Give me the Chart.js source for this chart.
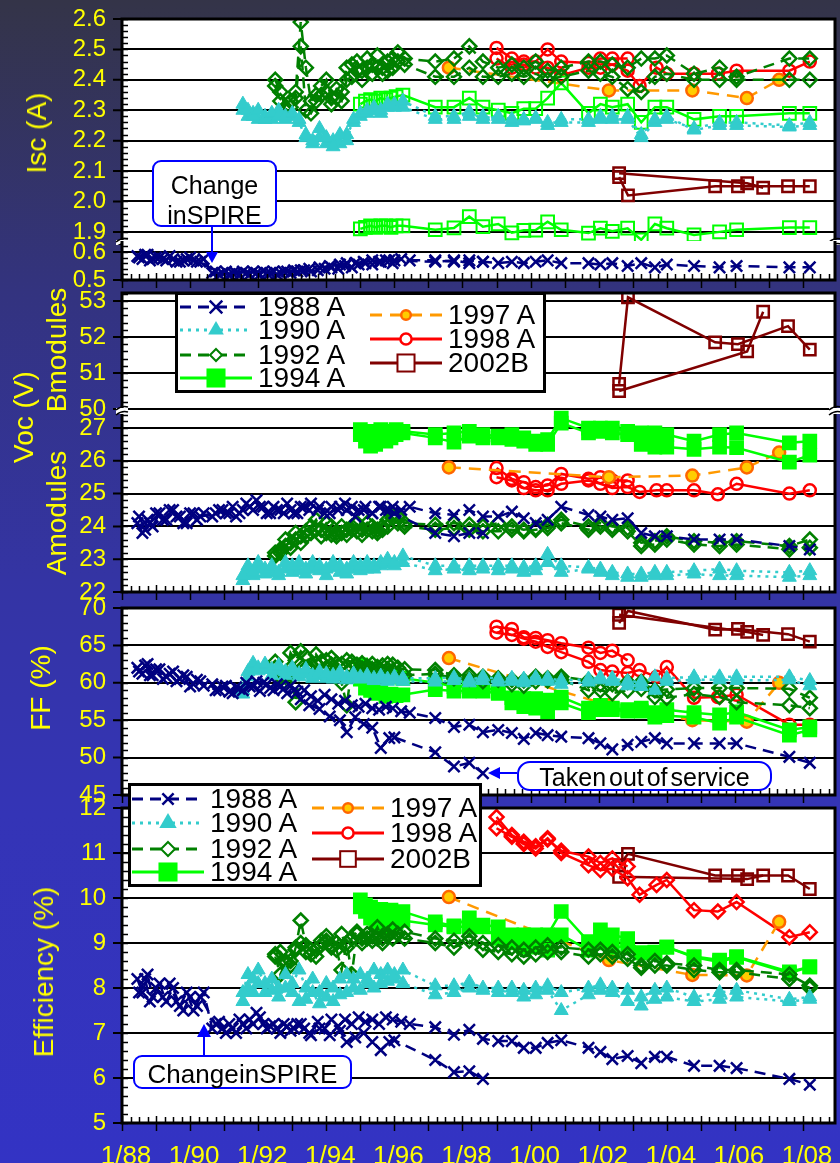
<!DOCTYPE html>
<html>
<head>
<meta charset="utf-8">
<script src="https://cdn.jsdelivr.net/npm/chart.js@4.4.0/dist/chart.umd.min.js"></script>
<style>
  html, body { margin: 0; padding: 0; }
  #page {
    position: relative; width: 840px; height: 1163px; overflow: hidden;
    background: linear-gradient(180deg, #343448 0%, #33337f 25%, #3434a4 50%, #3434b6 70%, #3333c4 100%);
    font-family: 'Liberation Sans', Arial, sans-serif;
  }
  canvas { position: absolute; left: 0; }
  .yt {
    position: absolute; transform: translate(-50%, -50%) rotate(-90deg);
    color: #ffff00; font-size: 28px; line-height: 1; white-space: nowrap;
  }
  .legend { position: absolute; background: #fff; border: 3px solid #000; box-sizing: border-box; z-index: 5; }
  .legend .item { position: absolute; height: 24px; }
  .legend svg { position: absolute; left: 0; top: 0; }
  .legend span { position: absolute; top: -2px; font-size: 28px; line-height: 28px; color: #000; white-space: nowrap; }
  .note {
    position: absolute; background: #fff; border: 2px solid #0000ff; box-sizing: border-box;
    color: #000; font-size: 25px; line-height: 1; text-align: center; z-index: 4; white-space: nowrap;
  }
  #arrows { position: absolute; left: 0; top: 0; z-index: 4; }
</style>
</head>
<body>
<div id="page">
  <canvas id="iscTop" width="840" height="242" style="top:3px"></canvas>
  <canvas id="iscBot" width="840" height="59" style="top:237px"></canvas>
  <canvas id="vocA" width="840" height="203" style="top:405px"></canvas>
  <canvas id="vocB" width="840" height="150" style="top:277px"></canvas>
  <canvas id="ff" width="840" height="219" style="top:592px"></canvas>
  <canvas id="eff" width="840" height="371" style="top:792px"></canvas>

  <div class="yt" style="left:37px;top:133px">Isc (A)</div>
  <div class="yt" style="left:24px;top:417px">Voc (V)</div>
  <div class="yt" style="left:57px;top:350px">Bmodules</div>
  <div class="yt" style="left:57px;top:513px">Amodules</div>
  <div class="yt" style="left:41px;top:688px">FF (%)</div>
  <div class="yt" style="left:44px;top:972px">Efficiency (%)</div>

  <div class="note" style="left:152px;top:160px;width:125px;height:67px;border-radius:9px;padding-top:8px;line-height:30px">Change<br>inSPIRE</div>
  <div class="note" style="left:517px;top:761px;width:255px;height:30px;border-radius:13px;padding-top:2px;word-spacing:-4px">Taken out of service</div>
  <div class="note" style="left:133px;top:1055px;width:219px;height:34px;border-radius:9px;padding-top:4px;font-size:26px;word-spacing:-7px">Change in SPIRE</div>

  <svg id="arrows" width="840" height="1163">
    <g stroke="#0000ff" stroke-width="2" fill="#0000ff">
      <line x1="212" y1="227" x2="212" y2="253"/>
      <polygon points="206,252 218,252 212,263" stroke="none"/>
      <line x1="204" y1="1055" x2="204" y2="1036"/>
      <polygon points="197,1037 211,1037 204,1024" stroke="none"/>
      <line x1="517" y1="773" x2="499" y2="773"/>
      <polygon points="500,767 500,779 488,773" stroke="none"/>
    </g>
  </svg>

  <div class="legend" id="legendTop" style="left:175px;top:292px;width:371px;height:101px"></div>
  <div class="legend" id="legendBottom" style="left:128px;top:783px;width:354px;height:104px"></div>
</div>

<script>
const FONT = "'Liberation Sans', Arial, sans-serif";
const YELLOW = '#ffff00';
const X_MIN = 1988.0;
const X_MAX = 2008.94;
const X_LABEL_YEARS = [1988, 1990, 1992, 1994, 1996, 1998, 2000, 2002, 2004, 2006, 2008];
const X_LABELS = ['1/88', '1/90', '1/92', '1/94', '1/96', '1/98', '1/00', '1/02', '1/04', '1/06', '1/08'];

const ISC_TOP_TICKS = [1.9, 2.0, 2.1, 2.2, 2.3, 2.4, 2.5, 2.6];
const ISC_BOT_TICKS = [0.5, 0.6];
const VOCB_TICKS = [50, 51, 52, 53];
const VOCA_TICKS = [22, 23, 24, 25, 26, 27];
const FF_TICKS = [45, 50, 55, 60, 65, 70];
const EFF_TICKS = [5, 6, 7, 8, 9, 10, 11, 12];

// measurement dates shared by the later campaign
const LATE = [1997.2, 1997.75, 1998.2, 1998.6, 1999.05, 1999.45, 1999.8, 2000.15, 2000.5, 2000.9, 2001.7,
  2002.05, 2002.4, 2002.85, 2003.25, 2003.65, 2004.0, 2004.8, 2005.55, 2006.05, 2007.6, 2008.2];

// ---- 1988 A ----
const E88A = [1988.45, 1988.6, 1988.75, 1988.9, 1989.1, 1989.3, 1989.5, 1989.7, 1989.9, 1990.1, 1990.3,
  1990.75, 1990.95, 1991.15, 1991.35, 1991.55, 1991.75, 1991.95, 1992.15, 1992.35, 1992.55, 1992.75, 1992.95,
  1993.15, 1993.35, 1993.55, 1993.75, 1993.95, 1994.15, 1994.35, 1994.55, 1994.75, 1994.95, 1995.15, 1995.35,
  1995.55, 1995.75, 1995.95, 1996.2, 1996.45];
const T88A = E88A.concat(LATE);
const T88B = [1988.5, 1988.68, 1988.82, 1989.0, 1989.2, 1989.4, 1989.6, 1989.8, 1990.0, 1990.2, 1990.4,
  1990.65, 1990.85, 1991.05, 1991.25, 1991.45, 1991.65, 1991.85, 1992.05, 1992.25, 1992.45, 1992.65, 1992.85,
  1993.05, 1993.25, 1993.5, 1993.8, 1994.1, 1994.4, 1994.6, 1994.85, 1995.1, 1995.35, 1995.6, 1995.85, 1996.0,
  1997.2, 1997.75, 1998.2, 1998.6];

const ISC88A = [0.585, 0.575, 0.59, 0.575, 0.58, 0.57, 0.575, 0.565, 0.575, 0.57, 0.565,
  0.53, 0.525, 0.52, 0.525, 0.53, 0.52, 0.525, 0.53, 0.525, 0.52, 0.53, 0.525, 0.53, 0.535, 0.53, 0.535, 0.54,
  0.545, 0.54, 0.55, 0.545, 0.555, 0.56, 0.555, 0.565, 0.57, 0.56, 0.575, 0.57,
  0.57, 0.565, 0.57, 0.565, 0.56, 0.565, 0.56, 0.565, 0.57, 0.56, 0.56, 0.555, 0.56, 0.55, 0.56, 0.545, 0.555,
  0.55, 0.545, 0.55, 0.545, 0.545];
const ISC88B = [0.58, 0.59, 0.57, 0.58, 0.575, 0.585, 0.565, 0.57, 0.58, 0.565, 0.575, 0.525, 0.52, 0.53, 0.525,
  0.52, 0.525, 0.53, 0.52, 0.525, 0.53, 0.525, 0.53, 0.535, 0.535, 0.54, 0.545, 0.55, 0.555, 0.56, 0.56, 0.565,
  0.57, 0.565, 0.57, 0.57, 0.565, 0.57, 0.56, 0.565];
const VOC88A = [24.1, 23.8, 24.2, 24.0, 24.4, 24.2, 24.5, 24.3, 24.1, 24.4, 24.3,
  24.4, 24.5, 24.4, 24.3, 24.5, 24.6, 24.8, 24.6, 24.4, 24.5, 24.4, 24.5, 24.4, 24.6, 24.7, 24.5, 24.4, 24.6,
  24.5, 24.7, 24.6, 24.5, 24.6, 24.4, 24.6, 24.5, 24.6, 24.5, 24.6,
  24.4, 24.35, 24.5, 24.3, 24.3, 24.45, 24.25, 24.1, 24.2, 24.6, 24.35, 24.3, 24.2, 24.25, 23.8, 23.7, 23.7,
  23.6, 23.6, 23.6, 23.4, 23.3];
const VOC88B = [24.3, 23.9, 24.1, 24.4, 24.2, 24.5, 24.3, 24.1, 24.4, 24.2, 24.4, 24.3, 24.5, 24.4, 24.6, 24.4,
  24.7, 24.5, 24.6, 24.4, 24.6, 24.5, 24.7, 24.4, 24.6, 24.5, 24.6, 24.4, 24.6, 24.5, 24.3, 24.5, 24.4, 24.6,
  24.5, 24.4, 23.8, 23.7, 23.8, 23.8];
const FF88A = [62.0, 61.2, 62.5, 61.0, 61.8, 60.8, 61.5, 60.5, 60.8, 59.8, 60.2,
  59.0, 59.5, 58.8, 59.4, 59.0, 59.5, 60.2, 60.0, 59.3, 59.8, 59.2, 59.6, 58.8, 59.0, 58.2, 57.6, 58.4, 57.8,
  57.2, 57.6, 57.0, 56.8, 57.2, 56.6, 56.4, 56.8, 56.6, 56.2, 56.0,
  55.3, 54.1, 54.4, 53.4, 53.7, 53.3, 52.5, 53.3, 53.0, 52.8, 52.6, 51.9, 51.1, 51.7, 52.1, 52.6, 51.9, 51.9,
  51.9, 51.9, 50.1, 49.3];
const FF88B = [61.5, 62.3, 61.0, 61.8, 60.5, 61.2, 60.2, 61.0, 59.5, 60.4, 59.6, 59.8, 59.0, 59.6, 58.6, 59.2,
  60.0, 59.5, 58.9, 59.8, 59.0, 59.5, 58.6, 59.0, 57.8, 57.0, 56.5, 55.5, 55.0, 53.4, 55.4, 54.5, 54.0, 51.3,
  52.6, 52.7, 50.7, 48.8, 49.3, 47.9];
const EFF88A = [8.2, 7.9, 8.3, 7.8, 8.1, 7.7, 8.0, 7.6, 7.9, 7.5, 7.8,
  7.2, 7.1, 7.2, 7.0, 7.2, 7.3, 7.45, 7.2, 7.15, 7.1, 7.2, 7.05, 7.2, 7.1, 6.95, 7.25, 7.1, 7.3, 7.15, 7.3,
  7.2, 7.35, 7.25, 7.3, 7.2, 7.35, 7.3, 7.25, 7.2,
  7.13, 6.96, 7.07, 6.87, 6.82, 6.82, 6.67, 6.67, 6.78, 6.84, 6.67, 6.58, 6.42, 6.49, 6.33, 6.47, 6.47, 6.27,
  6.27, 6.22, 5.98, 5.85];
const EFF88B = [7.9, 8.2, 7.7, 8.0, 7.8, 8.1, 7.7, 7.5, 7.8, 7.6, 7.9, 7.1, 7.25, 7.0, 7.1, 7.3, 7.1, 7.2, 7.35,
  7.1, 7.2, 7.0, 7.15, 7.1, 7.2, 7.0, 7.1, 6.95, 7.05, 6.8, 6.9, 7.0, 6.8, 6.62, 6.8, 6.84, 6.4, 6.13, 6.15, 5.98];

// ---- 1990 A ----
const E90 = [1991.55, 1991.7, 1991.85, 1992.0, 1992.2, 1992.4, 1992.6, 1992.8, 1993.0, 1993.2, 1993.4, 1993.6,
  1993.8, 1994.0, 1994.2, 1994.4, 1994.6, 1994.8, 1995.0, 1995.2, 1995.4, 1995.6, 1995.8, 1996.0, 1996.25];
const T90 = E90.concat(LATE);
const ISC90A = [2.32, 2.30, 2.28, 2.30, 2.27, 2.29, 2.28, 2.28, 2.29, 2.27, 2.22, 2.20, 2.24, 2.21, 2.18, 2.22,
  2.20, 2.27, 2.29, 2.30, 2.31, 2.30, 2.32, 2.31, 2.33,
  2.28, 2.28, 2.295, 2.27, 2.28, 2.27, 2.265, 2.275, 2.26, 2.26, 2.26, 2.28, 2.28, 2.28, 2.22, 2.27, 2.28,
  2.235, 2.25, 2.25, 2.245, 2.25];
const ISC90B = [2.30, 2.28, 2.29, 2.27, 2.28, 2.27, 2.30, 2.27, 2.28, 2.26, 2.21, 2.19, 2.21, 2.19, 2.20, 2.19,
  2.22, 2.26, 2.28, 2.29, 2.30, 2.29, 2.31, 2.32, 2.31,
  2.27, 2.27, 2.28, 2.28, 2.27, 2.26, 2.27, 2.27, 2.25, 2.27, 2.27, 2.27, 2.27, 2.27, 2.21, 2.26, 2.27, 2.24,
  2.26, 2.26, 2.25, 2.26];
const VOC90A = [22.5, 22.8, 22.6, 22.9, 22.7, 22.8, 22.6, 22.9, 22.8, 22.9, 22.7, 22.9, 22.8, 22.7, 22.9, 22.8,
  22.7, 22.9, 22.8, 22.9, 22.8, 22.9, 23.0, 22.9, 23.1,
  22.8, 22.8, 22.8, 22.8, 22.8, 22.8, 22.75, 22.8, 23.15, 22.8, 22.75, 22.7, 22.6, 22.55, 22.55, 22.6, 22.6,
  22.65, 22.7, 22.65, 22.6, 22.65];
const VOC90B = [22.35, 22.6, 22.5, 22.7, 22.55, 22.6, 22.5, 22.7, 22.6, 22.65, 22.55, 22.7, 22.65, 22.5, 22.75,
  22.6, 22.55, 22.7, 22.65, 22.7, 22.7, 22.8, 22.85, 22.8, 22.9,
  22.65, 22.7, 22.65, 22.7, 22.65, 22.7, 22.6, 22.65, 22.9, 22.6, 22.7, 22.6, 22.5, 22.45, 22.45, 22.5, 22.5,
  22.55, 22.5, 22.5, 22.45, 22.5];
const FF90A = [59.0, 61.5, 62.6, 62.0, 62.5, 61.8, 62.3, 61.5, 62.0, 61.2, 61.8, 61.0, 61.5, 61.2, 61.0, 61.4,
  60.8, 61.2, 60.8, 61.0, 60.6, 60.9, 60.5, 60.8, 60.6,
  60.6, 60.7, 60.4, 60.8, 60.5, 60.6, 60.5, 60.7, 60.6, 60.3, 60.5, 60.7, 60.6, 60.2, 60.1, 60.8, 60.6, 60.8,
  60.8, 60.8, 60.8, 60.3];
const FF90B = [58.5, 60.8, 61.8, 61.6, 61.8, 61.0, 61.6, 61.0, 61.5, 60.8, 61.2, 60.6, 61.0, 60.6, 60.5, 60.9,
  60.4, 60.7, 60.5, 60.6, 60.3, 60.5, 60.2, 60.4, 60.2,
  60.1, 60.3, 60.0, 60.3, 60.1, 60.2, 60.0, 60.3, 60.2, 59.8, 60.1, 60.4, 60.2, 59.6, 59.5, 59.0, 60.2, 60.4,
  60.4, 60.3, 60.4, 59.6];
const EFF90A = [7.9, 8.3, 8.2, 8.4, 8.1, 8.2, 8.0, 8.3, 8.1, 8.4, 8.0, 8.2, 7.9, 8.1, 8.0, 8.2, 8.3, 8.2, 8.3,
  8.2, 8.4, 8.3, 8.4, 8.3, 8.4,
  8.05, 8.05, 8.13, 8.0, 8.0, 8.0, 7.95, 8.0, 8.05, 7.9, 8.0, 8.07, 8.0, 7.95, 7.8, 7.95, 8.0, 7.8, 7.9, 7.95,
  7.75, 7.8];
const EFF90B = [7.7, 8.0, 7.9, 8.1, 7.9, 7.95, 7.8, 8.0, 7.9, 7.7, 7.75, 7.9, 7.65, 7.8, 7.7, 7.85, 7.9, 8.0,
  7.95, 8.1, 8.0, 8.1, 8.15, 8.2, 8.1,
  7.85, 7.9, 8.0, 7.95, 7.9, 7.9, 7.8, 7.85, 7.95, 7.5, 7.85, 7.95, 7.9, 7.7, 7.6, 7.75, 7.8, 7.7, 7.75, 7.8,
  7.7, 7.75];

// ---- 1992 A ----
const E92 = [1992.5, 1992.65, 1992.8, 1992.95, 1993.1, 1993.25, 1993.4, 1993.55, 1993.7, 1993.85, 1994.0,
  1994.15, 1994.3, 1994.45, 1994.6, 1994.75, 1994.9, 1995.05, 1995.2, 1995.35, 1995.5, 1995.65, 1995.8,
  1995.95, 1996.1, 1996.3];
const T92 = E92.concat(LATE);
const ISC92A = [2.40, 2.36, 2.31, 2.33, 2.36, 2.59, 2.44, 2.33, 2.35, 2.38, 2.40, 2.34, 2.37, 2.36, 2.44, 2.45,
  2.46, 2.43, 2.47, 2.45, 2.48, 2.44, 2.46, 2.47, 2.49, 2.47,
  2.46, 2.47, 2.51, 2.46, 2.44, 2.45, 2.44, 2.46, 2.43, 2.44, 2.46, 2.46, 2.45, 2.44, 2.47, 2.47, 2.48, 2.42,
  2.44, 2.41, 2.47, 2.47];
const ISC92B = [2.38, 2.33, 2.30, 2.31, 2.34, 2.51, 2.30, 2.29, 2.33, 2.35, 2.36, 2.32, 2.34, 2.33, 2.40, 2.41,
  2.43, 2.40, 2.44, 2.42, 2.44, 2.42, 2.43, 2.44, 2.46, 2.45,
  2.41, 2.41, 2.44, 2.41, 2.41, 2.42, 2.41, 2.42, 2.40, 2.41, 2.43, 2.42, 2.41, 2.37, 2.36, 2.41, 2.42, 2.40,
  2.40, 2.40, 2.40, 2.40];
const VOC92A = [23.2, 23.3, 23.6, 23.5, 23.8, 23.7, 23.85, 24.0, 24.2, 23.9, 24.1, 24.0, 23.8, 24.0, 23.9, 24.0,
  24.1, 23.9, 24.1, 24.0, 23.9, 24.0, 24.2, 24.35, 24.3, 24.1,
  24.05, 24.1, 24.05, 24.0, 24.1, 24.0, 23.9, 23.95, 24.05, 24.2, 24.0, 24.1, 24.0, 23.95, 23.5, 23.55, 23.7,
  23.55, 23.5, 23.55, 23.4, 23.6];
const VOC92B = [23.1, 23.2, 23.4, 23.35, 23.6, 23.5, 23.7, 23.8, 23.9, 23.7, 23.8, 23.75, 23.7, 23.8, 23.75, 23.9,
  23.85, 23.75, 23.9, 23.85, 23.8, 23.9, 24.0, 24.25, 24.1, 24.0,
  23.9, 23.95, 23.9, 23.85, 23.85, 23.9, 23.85, 23.9, 23.95, 24.1, 23.9, 24.0, 23.9, 23.85, 23.4, 23.45, 23.6,
  23.45, 23.4, 23.45, 23.3, 23.35];
const FF92A = [62.8, 61.5, 60.8, 64.0, 63.0, 64.2, 63.5, 62.4, 63.8, 62.8, 63.0, 63.3, 62.6, 62.5, 63.0, 62.8,
  62.4, 62.6, 62.2, 62.5, 62.1, 62.3, 62.5, 62.4, 62.0, 61.8,
  61.7, 61.0, 61.0, 60.8, 60.6, 60.4, 60.3, 60.8, 60.6, 60.8, 60.3, 59.8, 59.8, 60.1, 60.1, 59.0, 59.1, 59.3,
  59.3, 59.3, 59.2, 58.0];
const FF92B = [62.0, 60.8, 60.0, 62.0, 57.4, 62.5, 62.0, 61.8, 62.6, 61.5, 62.0, 62.4, 61.8, 60.0, 57.0, 62.0,
  61.6, 61.9, 61.5, 61.8, 61.3, 61.5, 61.8, 61.6, 61.2, 61.0,
  61.2, 60.6, 60.5, 60.2, 60.4, 59.8, 59.6, 60.2, 60.3, 60.4, 59.0, 59.0, 58.6, 59.0, 59.2, 58.1, 58.0, 58.5,
  58.1, 57.4, 57.0, 56.6];
const EFF92A = [8.75, 8.8, 8.6, 8.5, 8.9, 9.5, 8.95, 8.85, 8.7, 9.05, 9.15, 8.95, 9.0, 9.2, 8.9, 9.1, 9.25, 9.1,
  9.2, 9.15, 9.35, 9.1, 9.2, 9.3, 9.2, 9.25,
  9.1, 9.05, 9.15, 9.0, 8.95, 8.9, 8.85, 8.9, 8.95, 8.9, 8.85, 8.85, 8.8, 8.75, 8.5, 8.6, 8.55, 8.5, 8.4, 8.4,
  8.3, 8.05];
const EFF92B = [8.7, 8.3, 8.55, 8.6, 8.85, 9.0, 8.8, 8.75, 8.85, 8.95, 9.05, 8.9, 8.85, 8.4, 9.0, 8.3, 9.2, 9.0,
  9.1, 9.05, 9.1, 9.0, 9.15, 9.1, 9.2, 9.1,
  9.0, 8.9, 9.05, 8.85, 8.8, 8.75, 8.7, 8.75, 8.8, 8.8, 8.7, 8.75, 8.7, 8.65, 8.45, 8.5, 8.5, 8.4, 8.35, 8.35,
  8.2, 8.0];

// ---- 1994 A ----
const E94 = [1995.0, 1995.15, 1995.3, 1995.45, 1995.6, 1995.75, 1995.9, 1996.05, 1996.25];
const T94 = E94.concat(LATE);
const ISC94A = [2.32, 2.33, 2.335, 2.33, 2.34, 2.335, 2.34, 2.345, 2.35,
  2.31, 2.31, 2.34, 2.31, 2.30, 2.29, 2.305, 2.305, 2.34, 2.39, 2.29, 2.32, 2.31, 2.32, 2.26, 2.31, 2.31, 2.27,
  2.28, 2.28, 2.29, 2.29];
const ISC94B = [1.91, 1.915, 1.92, 1.915, 1.92, 1.92, 1.915, 1.92, 1.92,
  1.907, 1.913, 1.95, 1.917, 1.926, 1.897, 1.905, 1.906, 1.933, 1.907, 1.896, 1.912, 1.902, 1.912, 1.874, 1.926,
  1.912, 1.89, 1.9, 1.907, 1.914, 1.914];
const VOC94A = [26.95, 26.85, 26.9, 26.8, 26.95, 26.85, 26.9, 26.95, 26.9,
  26.8, 26.85, 26.9, 26.8, 26.75, 26.8, 26.7, 26.6, 26.65, 27.3, 27.0, 27.0, 27.0, 26.9, 26.85, 26.85, 26.8,
  26.6, 26.8, 26.85, 26.55, 26.6];
const VOC94B = [26.8, 26.6, 26.45, 26.5, 26.7, 26.6, 26.7, 26.8, 26.85,
  26.7, 26.57, 26.75, 26.7, 26.7, 26.65, 26.6, 26.5, 26.5, 27.15, 26.85, 26.9, 26.85, 26.8, 26.5, 26.42, 26.42,
  26.35, 26.42, 26.4, 25.96, 26.17];
const FF94A = [62.4, 62.0, 61.5, 61.8, 61.3, 61.0, 60.8, 61.0, 60.6,
  60.0, 59.5, 59.5, 59.5, 58.8, 58.0, 57.9, 57.9, 57.7, 58.1, 56.6, 57.0, 56.6, 56.4, 56.6, 56.0, 56.4, 56.0,
  55.7, 56.1, 53.7, 54.1];
const FF94B = [60.5, 59.3, 59.0, 58.6, 58.8, 58.2, 58.5, 58.3, 58.4,
  59.1, 58.9, 58.9, 58.9, 58.6, 57.3, 56.8, 56.6, 56.1, 57.3, 56.0, 56.4, 56.4, 56.2, 56.2, 55.4, 55.6, 55.4,
  54.6, 55.4, 53.0, 53.7];
const EFF94A = [9.96, 9.85, 9.8, 9.7, 9.75, 9.65, 9.73, 9.6, 9.7,
  9.47, 9.38, 9.56, 9.4, 9.36, 9.18, 9.18, 9.18, 9.18, 9.7, 9.03, 9.29, 9.18, 9.1, 8.78, 8.8, 8.91, 8.7, 8.62,
  8.7, 8.36, 8.47];
const EFF94B = [9.8, 9.7, 9.55, 9.45, 9.4, 9.5, 9.35, 9.45, 9.5,
  9.4, 9.36, 9.36, 9.36, 9.1, 9.0, 8.91, 8.91, 8.84, 9.18, 8.84, 9.0, 8.9, 8.93, 8.78, 8.78, 8.91, 8.68, 8.58,
  8.68, 8.33, 8.47];

// ---- 1997 A ----
const T97 = [1997.6, 2002.3, 2004.75, 2006.35, 2007.3];
const ISC97 = [2.44, 2.365, 2.365, 2.34, 2.40];
const VOC97 = [25.8, 25.5, 25.55, 25.8, 26.25];
const FF97 = [63.3, 57.0, 55.0, 54.8, 60.0];
const EFF97 = [10.02, 8.62, 8.29, 8.28, 9.47];

// ---- 1998 A ----
const T98A = [1999.0, 1999.45, 1999.8, 2000.15, 2000.5, 2000.9, 2001.7, 2002.05, 2002.4, 2002.85, 2003.2,
  2003.7, 2004.0, 2004.8, 2005.5, 2006.05, 2007.6, 2008.2];
const T98B = [1999.0, 1999.45, 1999.8, 2000.15, 2000.5, 2000.9, 2001.7, 2002.05, 2002.4, 2002.85];
const ISC98A = [2.47, 2.44, 2.45, 2.44, 2.44, 2.415, 2.44, 2.44, 2.45, 2.43, 2.38, 2.44, 2.42, 2.42, 2.42, 2.43,
  2.43, 2.46];
const ISC98B = [2.505, 2.47, 2.46, 2.46, 2.50, 2.46, 2.455, 2.47, 2.47, 2.47];
const VOC98A = [25.5, 25.4, 25.17, 25.1, 25.1, 25.3, 25.4, 25.3, 25.17, 25.2, 25.05, 25.1, 25.1, 25.1, 24.98,
  25.3, 25.0, 25.1];
const VOC98B = [25.78, 25.45, 25.35, 25.2, 25.25, 25.6, 25.45, 25.5, 25.4, 25.4];
const FF98A = [66.7, 66.4, 65.9, 65.5, 64.8, 64.1, 62.8, 61.7, 61.5, 61.3, 61.7, 60.8, 62.1, 58.0, 58.1, 58.4,
  54.4, 54.4];
const FF98B = [67.5, 67.2, 66.1, 66.0, 65.7, 65.3, 64.7, 64.0, 64.3, 63.0];
const EFF98A = [11.55, 11.36, 11.2, 11.1, 11.33, 11.0, 10.73, 10.62, 10.65, 10.44, 10.07, 10.29, 10.4, 9.73,
  9.7, 9.91, 9.13, 9.24];
const EFF98B = [11.8, 11.4, 11.25, 11.15, 11.3, 11.05, 10.92, 10.78, 10.88, 10.7];

// ---- 2002B ----
const T02A = [2002.6, 2002.86, 2005.42, 2006.09, 2007.56, 2008.2];
const T02B = [2002.6, 2006.36, 2006.83];
const ISC02A = [2.08, 2.02, 2.05, 2.05, 2.05, 2.05];
const ISC02B = [2.093, 2.06, 2.045];
const VOC02A = [50.7, 53.1, 51.85, 51.8, 52.3, 51.65];
const VOC02B = [50.5, 51.6, 52.7];
const FF02A = [68.0, 69.6, 67.1, 67.2, 66.5, 65.5];
const FF02B = [69.1, 66.8, 66.4];
const EFF02A = [10.73, 10.98, 10.5, 10.5, 10.5, 10.2];
const EFF02B = [10.47, 10.42, 10.5];

const OPEN = 'rgba(255,255,255,0)';
const STYLES = {
  '1988 A': { color: '#000080', width: 2.5, dash: [11, 7], point: 'crossRot', radius: 8, fill: '#000080', pw: 2.5 },
  '1990 A': { color: '#33cccc', width: 2.5, dash: [3, 5], point: 'triangle', radius: 8, fill: '#33cccc', pw: 1 },
  '1992 A': { color: '#008000', width: 2.5, dash: [11, 7], point: 'rectRot', radius: 7, fill: OPEN, pw: 2.5 },
  '1994 A': { color: '#00ff00', width: 2.5, dash: [], point: 'rect', radius: 9, fill: '#00ff00', pw: 2 },
  '1997 A': { color: '#ff9900', width: 2.5, dash: [12, 8], point: 'circle', radius: 6, fill: '#ffcc00', edge: '#ff6600', pw: 2.5 },
  '1998 A': { color: '#ff0000', width: 2.5, dash: [], point: 'circle', radius: 6, fill: OPEN, pw: 2.5 },
  '2002B': { color: '#800000', width: 2.5, dash: [], point: 'rect', radius: 8, fill: OPEN, pw: 2.5 },
};
const LEGEND_ORDER = ['1988 A', '1990 A', '1992 A', '1994 A', '1997 A', '1998 A', '2002B'];

function series(name, dates, values, over) {
  const st = Object.assign({}, STYLES[name], over || {});
  return {
    label: name,
    data: dates.map((x, i) => ({ x: x, y: values[i] })),
    borderColor: st.color,
    backgroundColor: st.fill,
    borderWidth: st.width,
    borderDash: st.dash,
    pointStyle: st.point,
    pointRadius: st.radius,
    pointBorderColor: st.edge || st.color,
    pointBackgroundColor: st.fill,
    pointBorderWidth: st.pw,
    tension: 0,
    fill: false,
  };
}

function drawBreak(ctx, x, y) {
  ctx.save();
  ctx.fillStyle = '#ffffff';
  ctx.fillRect(x - 6, y - 1, 12, 6);
  ctx.strokeStyle = '#000';
  ctx.lineWidth = 1.5;
  ctx.beginPath();
  ctx.moveTo(x - 6, y + 1); ctx.quadraticCurveTo(x, y - 4, x + 6, y - 2);
  ctx.moveTo(x - 6, y + 6); ctx.quadraticCurveTo(x, y + 1, x + 6, y + 3);
  ctx.stroke();
  ctx.restore();
}

const panelFrame = {
  id: 'panelFrame',
  beforeDraw(chart) {
    const { ctx, chartArea: a } = chart;
    ctx.save();
    ctx.fillStyle = '#ffffff';
    ctx.fillRect(a.left, a.top, a.right - a.left, a.bottom - a.top);
    ctx.restore();
  },
  afterDraw(chart, args, opts) {
    const { ctx, chartArea: a, scales } = chart;
    const x = scales.x;
    const y = scales.y;
    ctx.save();
    ctx.strokeStyle = '#000';
    // minor ticks on the left axis, inside
    ctx.lineWidth = 1.5;
    ctx.beginPath();
    const step = opts.yMinor;
    for (let k = Math.ceil(y.min / step - 1e-6); k * step <= y.max + 1e-9; k++) {
      const py = Math.round(y.getPixelForValue(k * step)) + 0.5;
      ctx.moveTo(a.left, py);
      ctx.lineTo(a.left + 6, py);
    }
    ctx.stroke();
    // major ticks on the left axis, outside
    ctx.lineWidth = 2;
    ctx.beginPath();
    y.ticks.forEach((t) => {
      const py = y.getPixelForValue(t.value);
      ctx.moveTo(a.left - 9, py);
      ctx.lineTo(a.left, py);
    });
    ctx.stroke();
    if (opts.xTicks) {
      ctx.lineWidth = 1.5;
      ctx.beginPath();
      for (let q = Math.ceil(x.min * 4); q <= Math.floor(x.max * 4); q++) {
        const px = Math.round(x.getPixelForValue(q / 4)) + 0.5;
        if (q % 4 === 0) {
          ctx.moveTo(px, a.bottom - 7);
          ctx.lineTo(px, a.bottom + 8);
        } else {
          ctx.moveTo(px, a.bottom - 6);
          ctx.lineTo(px, a.bottom);
        }
      }
      ctx.stroke();
    }
    // frame
    ctx.lineWidth = 3;
    ctx.beginPath();
    ctx.moveTo(a.left, a.top - (opts.top ? 1.5 : 0));
    ctx.lineTo(a.left, a.bottom + (opts.bottom ? 1.5 : 0));
    ctx.moveTo(a.right, a.top - (opts.top ? 1.5 : 0));
    ctx.lineTo(a.right, a.bottom + (opts.bottom ? 1.5 : 0));
    if (opts.top) { ctx.moveTo(a.left, a.top); ctx.lineTo(a.right, a.top); }
    if (opts.bottom) { ctx.moveTo(a.left, a.bottom); ctx.lineTo(a.right, a.bottom); }
    ctx.stroke();
    if (opts.breakAt === 'bottom') { drawBreak(ctx, a.left, a.bottom); drawBreak(ctx, a.right, a.bottom); }
    ctx.restore();
  },
};

function hiddenX() {
  return { type: 'linear', display: false, min: X_MIN, max: X_MAX };
}

function panel(id, cfg) {
  const canvas = document.getElementById(id);
  return new Chart(canvas.getContext('2d'), {
    type: 'line',
    data: { datasets: cfg.datasets },
    plugins: [panelFrame],
    options: {
      responsive: false,
      animation: false,
      events: [],
      layout: { autoPadding: false, padding: { top: cfg.padTop, bottom: cfg.padBottom, left: 0, right: 5 } },
      plugins: {
        legend: { display: false },
        tooltip: { enabled: false },
        panelFrame: cfg.frame,
      },
      scales: {
        x: cfg.xAxis || hiddenX(),
        y: {
          type: 'linear',
          min: cfg.yMin,
          max: cfg.yMax,
          afterFit(s) { s.width = 122; s.paddingTop = 0; s.paddingBottom = 0; },
          afterBuildTicks(s) { s.ticks = cfg.yTicks.map((v) => ({ value: v })); },
          border: { display: false },
          grid: { color: '#000', lineWidth: 2, drawTicks: false },
          ticks: {
            autoSkip: false,
            color: YELLOW,
            font: { size: 24, family: FONT },
            padding: 16,
            callback: cfg.yFormat || ((v) => String(v)),
          },
        },
      },
    },
  });
}

const oneDecimal = (v) => Number(v).toFixed(1);

panel('iscTop', {
  padTop: 16, padBottom: 4, yMin: 1.87, yMax: 2.6, yTicks: ISC_TOP_TICKS, yFormat: oneDecimal,
  frame: { yMinor: 0.02, top: true, bottom: false, breakAt: 'bottom' },
  datasets: [
    series('1990 A', T90, ISC90A), series('1990 A', T90, ISC90B),
    series('1992 A', T92, ISC92A), series('1992 A', T92, ISC92B),
    series('1994 A', T94, ISC94A, { fill: OPEN }), series('1994 A', T94, ISC94B, { fill: OPEN }),
    series('1997 A', T97, ISC97),
    series('1998 A', T98A, ISC98A), series('1998 A', T98B, ISC98B),
    series('2002B', T02A, ISC02A), series('2002B', T02B, ISC02B),
  ],
});

panel('iscBot', {
  padTop: 4, padBottom: 16, yMin: 0.5, yMax: 0.639, yTicks: ISC_BOT_TICKS, yFormat: oneDecimal,
  frame: { yMinor: 0.02, top: false, bottom: true, xTicks: true },
  datasets: [
    series('1988 A', T88A, ISC88A), series('1988 A', T88B, ISC88B),
  ],
});

panel('vocB', {
  padTop: 16, padBottom: 18, yMin: 50, yMax: 53.22, yTicks: VOCB_TICKS,
  frame: { yMinor: 0.2, top: true, bottom: false, breakAt: 'bottom' },
  datasets: [
    series('2002B', T02A, VOC02A), series('2002B', T02B, VOC02B),
  ],
});

panel('vocA', {
  padTop: 4, padBottom: 16, yMin: 22, yMax: 27.58, yTicks: VOCA_TICKS,
  frame: { yMinor: 0.2, top: false, bottom: true, xTicks: true },
  datasets: [
    series('1988 A', T88A, VOC88A), series('1988 A', T88B, VOC88B),
    series('1990 A', T90, VOC90A), series('1990 A', T90, VOC90B),
    series('1992 A', T92, VOC92A), series('1992 A', T92, VOC92B),
    series('1994 A', T94, VOC94A), series('1994 A', T94, VOC94B),
    series('1997 A', T97, VOC97),
    series('1998 A', T98A, VOC98A), series('1998 A', T98B, VOC98B),
  ],
});

panel('ff', {
  padTop: 16, padBottom: 16, yMin: 45, yMax: 70, yTicks: FF_TICKS,
  frame: { yMinor: 1, top: true, bottom: true, xTicks: true },
  datasets: [
    series('1988 A', T88A, FF88A), series('1988 A', T88B, FF88B),
    series('1990 A', T90, FF90A), series('1990 A', T90, FF90B),
    series('1992 A', T92, FF92A), series('1992 A', T92, FF92B),
    series('1994 A', T94, FF94A), series('1994 A', T94, FF94B),
    series('1997 A', T97, FF97),
    series('1998 A', T98A, FF98A), series('1998 A', T98B, FF98B),
    series('2002B', T02A, FF02A), series('2002B', T02B, FF02B),
  ],
});

panel('eff', {
  padTop: 16, padBottom: 0, yMin: 5, yMax: 12, yTicks: EFF_TICKS,
  frame: { yMinor: 0.2, top: true, bottom: true, xTicks: true },
  xAxis: {
    type: 'linear',
    position: 'bottom',
    min: X_MIN,
    max: X_MAX,
    afterFit(s) { s.height = 40; s.paddingLeft = 0; s.paddingRight = 0; },
    afterBuildTicks(s) { s.ticks = X_LABEL_YEARS.map((v) => ({ value: v })); },
    border: { display: false },
    grid: { display: false, drawTicks: false },
    ticks: {
      autoSkip: false,
      maxRotation: 0,
      color: YELLOW,
      font: { size: 26, family: FONT },
      padding: 18,
      labelOffset: 4,
      callback: (v, i) => X_LABELS[i],
    },
  },
  datasets: [
    series('1988 A', T88A, EFF88A), series('1988 A', T88B, EFF88B),
    series('1990 A', T90, EFF90A), series('1990 A', T90, EFF90B),
    series('1992 A', T92, EFF92A), series('1992 A', T92, EFF92B),
    series('1994 A', T94, EFF94A), series('1994 A', T94, EFF94B),
    series('1997 A', T97, EFF97),
    series('1998 A', T98A, EFF98A, { point: 'rectRot', radius: 7 }),
    series('1998 A', T98B, EFF98B, { point: 'rectRot', radius: 7 }),
    series('2002B', T02A, EFF02A), series('2002B', T02B, EFF02B),
  ],
});

// legends (HTML, styled from the same STYLES table)
function markerSvg(st, cx, cy, r) {
  const fill = st.fill === OPEN ? '#ffffff' : st.fill;
  const edge = st.edge || st.color;
  if (st.point === 'crossRot') {
    const d = r * 0.7;
    return `<path d="M${cx - d} ${cy - d}L${cx + d} ${cy + d}M${cx - d} ${cy + d}L${cx + d} ${cy - d}" stroke="${edge}" stroke-width="2.5"/>`;
  }
  if (st.point === 'triangle') {
    return `<polygon points="${cx},${cy - r} ${cx + r * 0.87},${cy + r * 0.5} ${cx - r * 0.87},${cy + r * 0.5}" fill="${fill}"/>`;
  }
  if (st.point === 'rectRot') {
    return `<polygon points="${cx},${cy - r} ${cx + r},${cy} ${cx},${cy + r} ${cx - r},${cy}" fill="${fill}" stroke="${edge}" stroke-width="2"/>`;
  }
  if (st.point === 'rect') {
    const h = r * 0.71;
    return `<rect x="${cx - h}" y="${cy - h}" width="${2 * h}" height="${2 * h}" fill="${fill}" stroke="${edge}" stroke-width="2"/>`;
  }
  return `<circle cx="${cx}" cy="${cy}" r="${r * 0.8}" fill="${fill}" stroke="${edge}" stroke-width="2.5"/>`;
}

function buildLegend(id, places, swatchW, textGap, sizes) {
  const box = document.getElementById(id);
  LEGEND_ORDER.forEach((name, i) => {
    const st = STYLES[name];
    const p = places[i];
    const item = document.createElement('div');
    item.className = 'item';
    item.style.left = p[0] + 'px';
    item.style.top = (p[1] - 12) + 'px';
    const dash = st.dash.length ? `stroke-dasharray="${st.dash.join(' ')}"` : '';
    const r = sizes[name] || 7;
    item.innerHTML = `<svg width="${swatchW}" height="24">` +
      `<line x1="0" y1="12" x2="${swatchW}" y2="12" stroke="${st.color}" stroke-width="3" ${dash}/>` +
      markerSvg(st, swatchW / 2, 12, r) + `</svg><span style="left:${swatchW + textGap}px">${name}</span>`;
    box.appendChild(item);
  });
}

buildLegend('legendTop', [[2, 12], [2, 35], [2, 60], [2, 83], [192, 20], [192, 44], [192, 68]], 72, 6,
  { '1988 A': 9, '1990 A': 9, '1992 A': 6, '1994 A': 12, '1997 A': 6, '1998 A': 7, '2002B': 12 });
buildLegend('legendBottom', [[1, 13], [1, 37], [1, 63], [1, 86], [181, 22], [181, 47], [181, 73]], 72, 6,
  { '1988 A': 8, '1990 A': 10, '1992 A': 7, '1994 A': 12, '1997 A': 6, '1998 A': 7, '2002B': 11 });
</script>
</body>
</html>
